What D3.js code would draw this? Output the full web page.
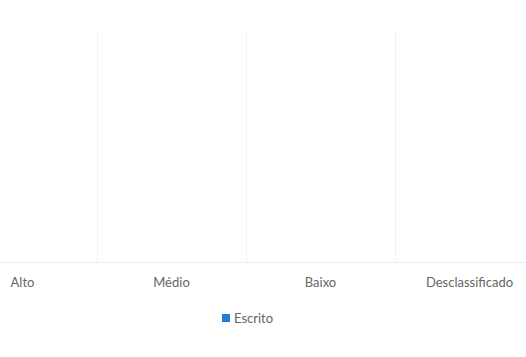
<!DOCTYPE html>
<html>
<head>
<meta charset="utf-8">
<script src="https://cdn.jsdelivr.net/npm/d3@7"></script>
<style>
  body { margin: 0; background: #fff; }
  svg { display: block; }
  text { font-family: Lato, "Open Sans", sans-serif; fill: #666; }
</style>
</head>
<body>
<div id="chart"></div>
<script>
const categories = ['Alto', 'Médio', 'Baixo', 'Desclassificado'];
const escrito = [0, 0, 0, 0];
const seriesName = 'Escrito';

const width = 526, height = 357;
const svg = d3.select('#chart').append('svg')
    .attr('width', width)
    .attr('height', height);

// plot area runs past the window edges, like the cropped original
const x = d3.scaleBand().domain(categories).range([-52, 544]).paddingInner(0.3).paddingOuter(0.15);
const bands = d3.scaleBand().domain(categories).range([-52, 544]);
const y = d3.scaleLinear().domain([0, 1]).range([262, 30]);

// vertical separators between categories
svg.append('g')
    .selectAll('line')
    .data(categories.slice(1))
    .join('line')
    .attr('x1', d => Math.round(bands(d)) + 0.5)
    .attr('x2', d => Math.round(bands(d)) + 0.5)
    .attr('y1', y.range()[1])
    .attr('y2', y.range()[0])
    .style('stroke', '#f2f2f2');

// bars (all zero)
svg.append('g')
    .selectAll('rect')
    .data(escrito)
    .join('rect')
    .attr('x', (d, i) => x(categories[i]))
    .attr('y', d => y(d))
    .attr('width', x.bandwidth())
    .attr('height', d => y(0) - y(d))
    .style('fill', '#1f7fd4');

// baseline + category labels
const axis = svg.append('g')
    .attr('transform', `translate(0, ${y(0)})`)
    .call(d3.axisBottom(bands).tickSize(0).tickPadding(16));
axis.select('.domain').style('stroke', '#ececec');
axis.selectAll('text')
    .style('font-size', '13px')
    .style('fill', '#666')
    .style('font-family', 'Lato, "Open Sans", sans-serif');

// legend
const legend = svg.append('g').attr('transform', 'translate(222, 318)');
legend.append('rect')
    .attr('width', 8)
    .attr('height', 8)
    .attr('y', -4)
    .style('fill', '#1f7fd4');
legend.append('text')
    .attr('x', 12)
    .attr('dy', '0.35em')
    .style('font-size', '13px')
    .text(seriesName);
</script>
</body>
</html>
